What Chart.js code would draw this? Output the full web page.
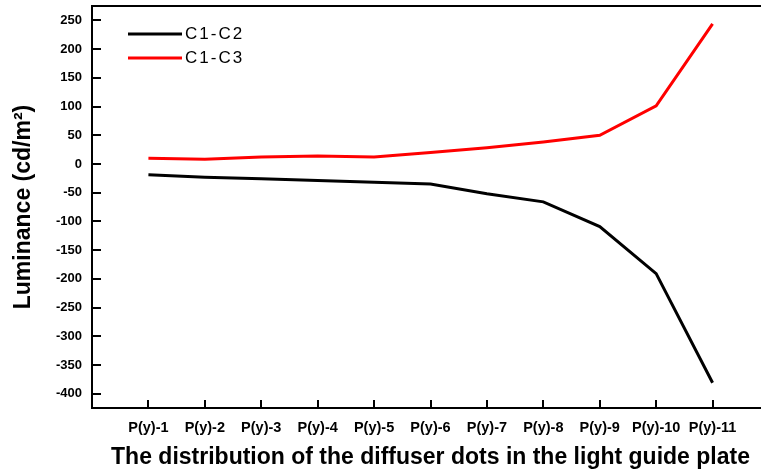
<!DOCTYPE html>
<html>
<head>
<meta charset="utf-8">
<script src="https://cdn.jsdelivr.net/npm/chart.js@4.4.1/dist/chart.umd.min.js"></script>
<style>
  html, body { margin: 0; padding: 0; background: #fff; overflow: hidden; }
  #wrap { width: 770px; height: 472px; }
</style>
</head>
<body>
<div id="wrap"><canvas id="myChart" width="770" height="472"></canvas></div>
<script>
// positions along the light guide plate
var categories = ['P(y)-1','P(y)-2','P(y)-3','P(y)-4','P(y)-5','P(y)-6','P(y)-7','P(y)-8','P(y)-9','P(y)-10','P(y)-11'];
var c1c2 = [-19, -23, -26, -29, -32, -35, -52, -66, -109, -191, -381];
var c1c3 = [10, 8, 12, 14, 12, 20, 28, 38, 50, 101, 244];
var yTicks = [-400, -350, -300, -250, -200, -150, -100, -50, 0, 50, 100, 150, 200, 250];

function toPoints(values) {
    return values.map(function (v, i) { return { x: i + 1, y: v }; });
}

// frame, inward tick marks and the legend inside the plot
const framePlugin = {
    id: 'frame',
    afterDraw: function (chart) {
        var ctx = chart.ctx;
        var a = chart.chartArea;
        var xs = chart.scales.x, ys = chart.scales.y;
        ctx.save();
        ctx.strokeStyle = '#000';
        ctx.lineWidth = 2;
        ctx.strokeRect(a.left, a.top, a.right - a.left, a.bottom - a.top);
        ctx.beginPath();
        ys.ticks.forEach(function (t) {
            var y = Math.round(ys.getPixelForValue(t.value));
            ctx.moveTo(a.left, y);
            ctx.lineTo(a.left + 9, y);
        });
        xs.ticks.forEach(function (t) {
            var x = Math.round(xs.getPixelForValue(t.value));
            ctx.moveTo(x, a.bottom);
            ctx.lineTo(x, a.bottom - 8);
        });
        ctx.stroke();

        // legend
        ctx.font = '17px "Liberation Sans", Arial, sans-serif';
        ctx.letterSpacing = '2px';
        ctx.textBaseline = 'middle';
        ctx.fillStyle = '#000';
        chart.data.datasets.forEach(function (ds, i) {
            var y = 34 + i * 24;
            ctx.strokeStyle = ds.borderColor;
            ctx.lineWidth = 3;
            ctx.beginPath();
            ctx.moveTo(128, y);
            ctx.lineTo(182, y);
            ctx.stroke();
            ctx.fillText(ds.label, 185, y);
        });
        ctx.restore();
    }
};

const data = {
    datasets: [{
        label: 'C1-C2',
        borderColor: '#000000',
        backgroundColor: '#000000',
        data: toPoints(c1c2),
    },{
        label: 'C1-C3',
        borderColor: '#ff0000',
        backgroundColor: '#ff0000',
        data: toPoints(c1c3),
    }],
};

const config = {
    type: 'line',
    data: data,
    plugins: [framePlugin],
    options: {
        responsive: false,
        animation: false,
        devicePixelRatio: 1,
        layout: { padding: { top: 6, left: 0, right: 1, bottom: 0 } },
        elements: {
            line: { borderWidth: 3, tension: 0 },
            point: { radius: 0 }
        },
        plugins: {
            legend: { display: false },
            tooltip: { enabled: false }
        },
        scales: {
            x: {
                type: 'linear',
                min: 0,
                max: 12,
                grid: { display: false },
                border: { display: false },
                afterBuildTicks: function (scale) {
                    scale.ticks = categories.map(function (c, i) { return { value: i + 1 }; });
                },
                afterFit: function (scale) {
                    scale.height = 64;
                    scale.paddingLeft = 0;
                    scale.paddingRight = 0;
                },
                ticks: {
                    autoSkip: false,
                    maxRotation: 0,
                    padding: 3,
                    color: '#000',
                    font: { family: '"Liberation Sans", Arial, sans-serif', size: 14.5, weight: 'bold' },
                    callback: function (v) { return categories[v - 1]; }
                },
                title: {
                    display: true,
                    text: 'The distribution of the diffuser dots in the light guide plate',
                    color: '#000',
                    padding: { top: 0, bottom: 1 },
                    font: { family: '"Liberation Sans", Arial, sans-serif', size: 23, weight: 'bold' }
                }
            },
            y: {
                min: -425,
                max: 275,
                grid: { display: false },
                border: { display: false },
                afterBuildTicks: function (scale) {
                    scale.ticks = yTicks.map(function (v) { return { value: v }; });
                },
                afterFit: function (scale) {
                    scale.width = 92;
                    scale.paddingTop = 0;
                    scale.paddingBottom = 0;
                },
                ticks: {
                    padding: 2,
                    color: '#000',
                    font: { family: '"Liberation Sans", Arial, sans-serif', size: 13, weight: 'bold' }
                },
                title: {
                    display: true,
                    text: 'Luminance (cd/m²)',
                    color: '#000',
                    padding: { top: 10, bottom: 0 },
                    font: { family: '"Liberation Sans", Arial, sans-serif', size: 23, weight: 'bold' }
                }
            }
        }
    }
};

const myChart = new Chart(
    document.getElementById('myChart'),
    config
);
</script>
</body>
</html>
